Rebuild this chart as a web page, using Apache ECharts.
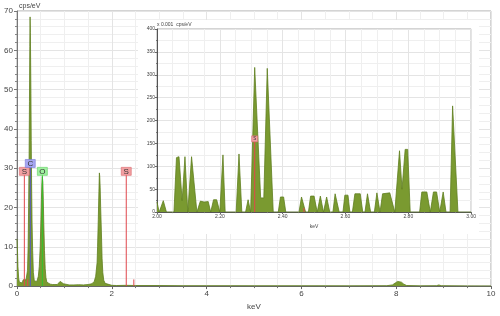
<!DOCTYPE html>
<html>
<head>
<meta charset="utf-8">
<script src="https://cdn.jsdelivr.net/npm/echarts@6/dist/echarts.min.js"></script>
<style>
html,body{margin:0;padding:0;background:#fff;}
#main{position:absolute;left:0;top:0;width:500px;height:316px;}
#inset{position:absolute;left:138px;top:20px;width:341px;height:214px;background:#fff;}
</style>
</head>
<body>
<div id="main"></div>
<div id="inset"></div>
<script>
// ---- main spectrum (keV, cps/eV) ----
var mainEnergy = [0.00,0.01,0.02,0.035,0.05,0.07,0.09,0.11,0.13,0.16,0.19,0.21,0.222,0.235,0.245,0.255,0.263,0.27,0.276,0.282,0.288,0.294,0.30,0.308,0.318,0.33,0.345,0.365,0.39,0.42,0.45,0.47,0.49,0.505,0.515,0.525,0.535,0.545,0.555,0.565,0.58,0.595,0.61,0.63,0.66,0.70,0.75,0.80,0.85,0.88,0.91,0.93,0.95,0.98,1.02,1.10,1.20,1.30,1.40,1.50,1.58,1.63,1.66,1.69,1.70,1.715,1.728,1.738,1.745,1.755,1.765,1.78,1.795,1.81,1.83,1.86,1.90,2.00,2.10,2.30,2.50,3.00,3.50,4.00,4.50,5.00,6.00,7.00,7.80,7.92,7.98,8.03,8.07,8.11,8.16,8.22,8.50,8.85,8.90,8.95,9.50,10.0];
var mainCounts = [12,9,5,2,1.0,0.6,0.5,0.8,1.6,1.8,1.6,2.0,4,10,20,32,47,61,68.5,64.5,57,49,37,26,16,9,3.5,1.3,0.8,1.2,2.5,5,10,17,22,26,27.8,26.5,22,16,9,4.5,2.2,1.0,0.6,0.5,0.4,0.4,0.4,0.6,1.2,1.6,1.3,0.6,0.4,0.3,0.3,0.35,0.3,0.4,0.6,1.2,2.5,6,10,17,24,28.8,28,25,20,14,7,3.5,1.5,0.7,0.4,0.2,0.15,0.2,0.15,0.15,0.1,0.1,0.1,0.08,0.08,0.06,0.1,0.3,0.8,1.2,1.3,1.0,0.5,0.15,0.06,0.1,0.3,0.1,0.05,0.03];

// ---- inset spectrum (keV, x 0.001 cps/eV) ----
var insetEnergy = [2.000,2.003,2.007,2.020,2.030,2.054,2.062,2.070,2.080,2.089,2.098,2.110,2.127,2.138,2.150,2.155,2.163,2.171,2.180,2.190,2.200,2.210,2.217,2.252,2.261,2.270,2.282,2.290,2.298,2.311,2.330,2.340,2.351,2.370,2.386,2.393,2.403,2.410,2.452,2.460,2.473,2.482,2.489,2.500,2.510,2.520,2.530,2.540,2.550,2.560,2.567,2.580,2.592,2.598,2.608,2.614,2.622,2.630,2.647,2.655,2.662,2.670,2.680,2.692,2.700,2.710,2.718,2.741,2.757,2.772,2.780,2.790,2.798,2.806,2.836,2.843,2.859,2.870,2.875,2.880,2.890,2.900,2.905,2.911,2.920,2.933,2.941,2.958,3.000];
var insetCounts = [22,25,0,25,0,0,119,121,25,121,0,121,0,24,22,22,23,0,27,27,0,125,0,0,127,0,0,27,0,316,31,31,314,0,0,33,33,0,0,33,0,0,35,35,0,35,0,33,0,0,40,0,0,37,37,0,0,40,40,0,0,40,0,0,42,0,40,42,0,134,50,137,137,0,0,44,44,0,0,44,44,0,0,44,0,0,232,0,0];

// ---- element marker lines ----
var markerLabel = ['S','C','O','S'];
var markerEnergy = [0.155,0.28,0.535,2.305];
var betaEnergy = [0.225,2.465];
var insetMarkerLabel = ['S'];
var insetMarkerEnergy = [2.311];
var insetBetaEnergy = [2.468];

// ---- tick labels ----
var mainXTicks = [0,2,4,6,8,10];
var mainYTicks = [0,10,20,30,40,50,60,70];
var insetXTicks = [2.0,2.2,2.4,2.6,2.8,3.0];
var insetYTicks = [0,50,100,150,200,250,300,350,400];

var FONT = 'Liberation Sans';
var elemStyle = {
  S: {line:'#e0474c', fill:'#f2a0a2', border:'#d9676b'},
  C: {line:'#5555cc', fill:'#a6a6f2', border:'#7b7bd8'},
  O: {line:'#2fc32f', fill:'#9ff09f', border:'#5fd05f'}
};
var specFill = '#7a9a30', specLine = '#5f7f1f';

function pairs(xs, ys){ return xs.map(function(x,i){return [x, ys[i]];}); }

function axisCommon(color){
  return {
    axisLine:{show:true, lineStyle:{color:color, width:1}},
    splitLine:{show:true, lineStyle:{color:'#e4e4e4', width:1}},
    minorSplitLine:{show:true, lineStyle:{color:'#efefef', width:1}}
  };
}

function markerSeries(labels, energies, topFn, boxSize, fontSize, betas, betaH){
  var out = [];
  labels.forEach(function(lab, i){
    var st = elemStyle[lab];
    var top = topFn(lab);
    out.push({type:'line', data:[[energies[i],0],[energies[i],top]], symbol:'none', silent:true,
      lineStyle:{color:st.line, width:1}, z:5, animation:false});
    out.push({type:'scatter', data:[[energies[i],top]], symbol:'rect', symbolSize:boxSize, silent:true,
      itemStyle:{color:st.fill, borderColor:st.border, borderWidth:0.6, opacity:1}, z:6, animation:false,
      label:{show:true, position:'inside', formatter:lab, fontFamily:FONT, fontSize:fontSize, color:'#333'}});
  });
  betas.forEach(function(e){
    out.push({type:'line', data:[[e,0],[e,betaH]], symbol:'none', silent:true,
      lineStyle:{color:elemStyle.S.line, width:1}, z:5, animation:false});
  });
  return out;
}

// ================= main chart =================
var main = echarts.init(document.getElementById('main'), null, {renderer:'canvas'});
var mx = axisCommon('#666');
var my = axisCommon('#777');
main.setOption({
  animation:false,
  backgroundColor:'#fff',
  grid:{left:17, right:9, top:11, bottom:22, show:true, borderColor:'#a8a8a8', borderWidth:1, containLabel:false},
  xAxis:{type:'value', min:0, max:10, interval:2,
    name:'keV', nameLocation:'middle', nameGap:11,
    nameTextStyle:{fontFamily:FONT, fontSize:8, color:'#444'},
    axisLine:mx.axisLine, splitLine:mx.splitLine, minorSplitLine:mx.minorSplitLine,
    axisTick:{show:true, length:3, lineStyle:{color:'#666'}},
    minorTick:{show:true, splitNumber:4, length:2, lineStyle:{color:'#777'}},
    axisLabel:{fontFamily:FONT, fontSize:8, color:'#444', margin:4,
      formatter:function(v){ return mainXTicks.indexOf(v)>=0 ? String(v) : ''; }}
  },
  yAxis:{type:'value', min:0, max:70, interval:10,
    name:'cps/eV', nameLocation:'end', nameGap:1,
    nameTextStyle:{fontFamily:FONT, fontSize:7, color:'#444', align:'left', padding:[0,0,0,2]},
    axisLine:my.axisLine, splitLine:my.splitLine, minorSplitLine:my.minorSplitLine,
    axisTick:{show:true, length:3, lineStyle:{color:'#777'}},
    minorTick:{show:true, splitNumber:5, length:2, lineStyle:{color:'#888'}},
    axisLabel:{fontFamily:FONT, fontSize:8, color:'#444', margin:4,
      formatter:function(v){ return mainYTicks.indexOf(v)>=0 ? String(v) : ''; }}
  },
  series:[{type:'line', data:pairs(mainEnergy, mainCounts), symbol:'none', silent:true,
      lineStyle:{color:specLine, width:0.8}, areaStyle:{color:specFill, opacity:1}, z:2}]
    .concat(markerSeries(markerLabel, markerEnergy, function(l){return l==='C'?31.2:29.2;}, [10,8], 8, betaEnergy, 1.7))
});

// ================= inset chart =================
var inset = echarts.init(document.getElementById('inset'), null, {renderer:'canvas'});
var ix = axisCommon('#555');
var iy = axisCommon('#555');
inset.setOption({
  animation:false,
  backgroundColor:'#fff',
  grid:{left:19, right:2, top:9, bottom:13, show:true, borderColor:'#a8a8a8', borderWidth:1, containLabel:false},
  graphic:[{type:'text', left:19, top:2, style:{text:'x 0.001  cps/eV', fontFamily:FONT, fontSize:5, fill:'#444'}}],
  xAxis:{type:'value', min:2, max:3, interval:0.2,
    name:'keV', nameLocation:'middle', nameGap:7,
    nameTextStyle:{fontFamily:FONT, fontSize:5, color:'#444'},
    axisLine:ix.axisLine, splitLine:ix.splitLine, minorSplitLine:ix.minorSplitLine,
    axisTick:{show:true, length:2, lineStyle:{color:'#666'}},
    minorTick:{show:true, splitNumber:4, length:1, lineStyle:{color:'#777'}},
    axisLabel:{fontFamily:FONT, fontSize:5, color:'#444', margin:2,
      formatter:function(v){
        var hit = insetXTicks.some(function(t){return Math.abs(t-v)<1e-6;});
        return hit ? v.toFixed(2) : '';
      }}
  },
  yAxis:{type:'value', min:0, max:400, interval:50,
    axisLine:iy.axisLine, splitLine:iy.splitLine, minorSplitLine:iy.minorSplitLine,
    axisTick:{show:true, length:2, lineStyle:{color:'#666'}},
    minorTick:{show:true, splitNumber:2, length:1, lineStyle:{color:'#777'}},
    axisLabel:{fontFamily:FONT, fontSize:5, color:'#444', margin:2,
      formatter:function(v){ return insetYTicks.indexOf(v)>=0 ? String(v) : ''; }}
  },
  series:[{type:'line', data:pairs(insetEnergy, insetCounts), symbol:'none', silent:true,
      lineStyle:{color:specLine, width:0.8}, areaStyle:{color:specFill, opacity:1}, z:2}]
    .concat(markerSeries(insetMarkerLabel, insetMarkerEnergy, function(){return 160;}, [6,6], 4.5, insetBetaEnergy, 9))
});
</script>
</body>
</html>
